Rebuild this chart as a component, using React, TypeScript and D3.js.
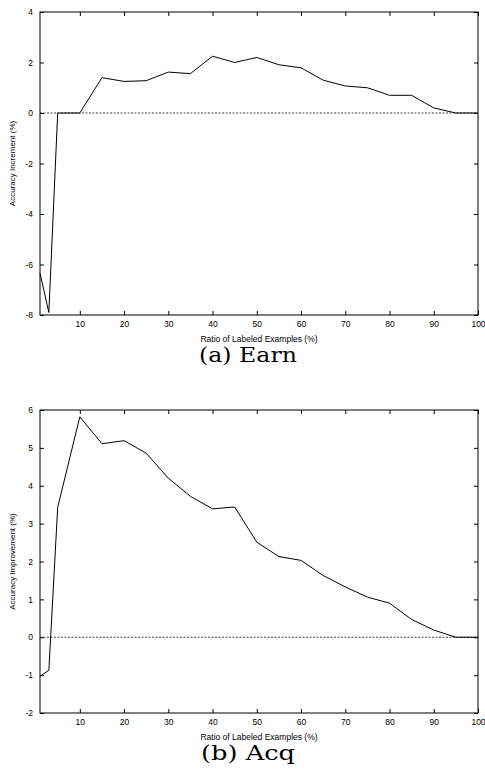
import React, { useEffect, useRef } from "react";
import * as d3 from "d3";

// ratio of labeled examples (%)
const ratios = [1, 3, 5, 10, 15, 20, 25, 30, 35, 40, 45, 50, 55, 60, 65, 70, 75, 80, 85, 90, 95, 100];
const earnValues = [-6.34, -7.9, 0, 0, 1.4, 1.25, 1.28, 1.62, 1.56, 2.25, 2.0, 2.2, 1.91, 1.79, 1.3, 1.07, 1.0, 0.7, 0.7, 0.2, 0, 0];
const acqValues = [-1.03, -0.87, 3.43, 5.82, 5.11, 5.19, 4.86, 4.2, 3.72, 3.39, 3.44, 2.51, 2.13, 2.03, 1.63, 1.33, 1.06, 0.9, 0.47, 0.19, 0, 0];

const xTicks = [10, 20, 30, 40, 50, 60, 70, 80, 90, 100];
const earnYTicks = [-8, -6, -4, -2, 0, 2, 4];
const acqYTicks = [-2, -1, 0, 1, 2, 3, 4, 5, 6];

const W = 485;
const H = 769;
const left = 40;
const right = 478;
const sans = "'Liberation Sans', Arial, sans-serif";
const serif = "'DejaVu Serif', 'Liberation Serif', serif";

type PanelProps = {
  top: number;
  bottom: number;
  yDomain: [number, number];
  yTicks: number[];
  values: number[];
  yLabel: string;
  caption: string;
  captionWidth: number;
};

function Panel({ top, bottom, yDomain, yTicks, values, yLabel, caption, captionWidth }: PanelProps) {
  const xb = useRef<SVGGElement>(null);
  const xt = useRef<SVGGElement>(null);
  const yl = useRef<SVGGElement>(null);
  const yr = useRef<SVGGElement>(null);

  const x = d3.scaleLinear().domain([1, 100]).range([left, right]);
  const y = d3.scaleLinear().domain(yDomain).range([bottom, top]);

  useEffect(() => {
    const style = (g: d3.Selection<SVGGElement, unknown, null, undefined>) => {
      g.select(".domain").remove();
      g.selectAll("line").attr("stroke", "#000");
      g.selectAll("text").attr("fill", "#000").style("font-family", sans).style("font-size", "8.5px");
    };
    d3.select(xb.current!).call(d3.axisBottom(x).tickValues(xTicks).tickSize(-4).tickPadding(6)).call(style);
    d3.select(xt.current!).call(d3.axisTop(x).tickValues(xTicks).tickSize(-4).tickFormat(() => "")).call(style);
    d3.select(yl.current!)
      .call(d3.axisLeft(y).tickValues(yTicks).tickSize(-4).tickPadding(7).tickFormat((d) => String(d)))
      .call(style);
    d3.select(yr.current!).call(d3.axisRight(y).tickValues(yTicks).tickSize(-4).tickFormat(() => "")).call(style);
  });

  const line = d3
    .line<number>()
    .x((_, i) => x(ratios[i]))
    .y((d) => y(d));

  const mid = (top + bottom) / 2;

  return (
    <g>
      <line x1={left} x2={right} y1={y(0)} y2={y(0)} stroke="#444" strokeWidth={1} strokeDasharray="2,1.5" />
      <path d={line(values) || ""} fill="none" stroke="#000" strokeWidth={1} />
      <rect x={left} y={top} width={right - left} height={bottom - top} fill="none" stroke="#000" strokeWidth={1} />
      <g ref={xb} transform={`translate(0,${bottom})`} />
      <g ref={xt} transform={`translate(0,${top})`} />
      <g ref={yl} transform={`translate(${left},0)`} />
      <g ref={yr} transform={`translate(${right},0)`} />
      <text transform={`translate(15,${mid}) rotate(-90)`} textAnchor="middle" fontFamily={sans} fontSize={8}>
        {yLabel}
      </text>
      <text x={(left + right) / 2} y={bottom + 27} textAnchor="middle" fontFamily={sans} fontSize={8.5}>
        Ratio of Labeled Examples (%)
      </text>
      <text
        x={248}
        y={bottom + 47}
        textAnchor="middle"
        fontFamily={serif}
        fontSize={20}
        textLength={captionWidth}
        lengthAdjust="spacingAndGlyphs"
      >
        {caption}
      </text>
    </g>
  );
}

export default function App() {
  return (
    <svg width={W} height={H} style={{ position: "absolute", left: 0, top: 0, background: "#fff" }}>
      <rect width={W} height={H} fill="#fff" />
      <Panel
        top={12}
        bottom={315}
        yDomain={[-8, 4]}
        yTicks={earnYTicks}
        values={earnValues}
        yLabel="Accuracy Increment (%)"
        caption="(a) Earn"
        captionWidth={98}
      />
      <Panel
        top={410}
        bottom={713}
        yDomain={[-2, 6]}
        yTicks={acqYTicks}
        values={acqValues}
        yLabel="Accuracy Improvement (%)"
        caption="(b) Acq"
        captionWidth={94}
      />
    </svg>
  );
}
